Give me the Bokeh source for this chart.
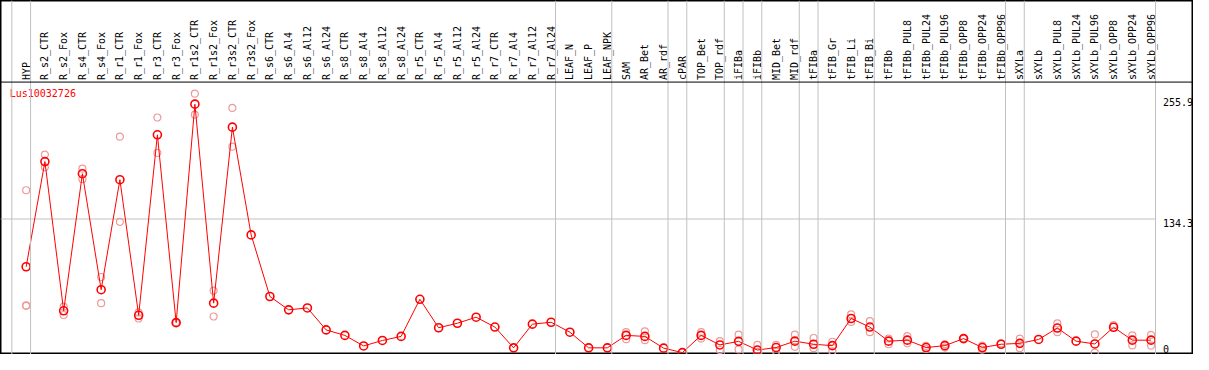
import math
from bokeh.plotting import figure
from bokeh.models import Range1d, Span, ColumnDataSource
from bokeh.core.properties import value
from bokeh.embed import file_html
from bokeh.resources import INLINE

NaN = float("nan")

title_text = "Lus10032726"

categories = [
    "HYP", "R_s2_CTR", "R_s2_Fox", "R_s4_CTR", "R_s4_Fox", "R_r1_CTR", "R_r1_Fox",
    "R_r3_CTR", "R_r3_Fox", "R_r1s2_CTR", "R_r1s2_Fox", "R_r3s2_CTR", "R_r3s2_Fox",
    "R_s6_CTR", "R_s6_Al4", "R_s6_Al12", "R_s6_Al24", "R_s8_CTR", "R_s8_Al4",
    "R_s8_Al12", "R_s8_Al24", "R_r5_CTR", "R_r5_Al4", "R_r5_Al12", "R_r5_Al24",
    "R_r7_CTR", "R_r7_Al4", "R_r7_Al12", "R_r7_Al24", "LEAF_N", "LEAF_P", "LEAF_NPK",
    "SAM", "AR_Bet", "AR_rdf", "cPAR", "TOP_Bet", "TOP_rdf", "iFIBa", "iFIBb",
    "MID_Bet", "MID_rdf", "tFIBa", "tFIB_Gr", "tFIB_Li", "tFIB_Bi", "tFIBb",
    "tFIBb_PUL8", "tFIBb_PUL24", "tFIBb_PUL96", "tFIBb_OPP8", "tFIBb_OPP24", "tFIBb_OPP96",
    "sXYLa", "sXYLb", "sXYLb_PUL8", "sXYLb_PUL24", "sXYLb_PUL96", "sXYLb_OPP8",
    "sXYLb_OPP24", "sXYLb_OPP96",
]

mean_vals = [
    86.3, 192.0, 42.0, 179.8, 63.2, 173.8, 37.5, 218.9, 30.1, 249.7, 49.7, 226.6, 118.3,
    56.4, 43.0, 44.9, 22.8, 17.3, 6.7, 12.2, 16.3, 53.6, 25.0, 29.5, 35.6,
    25.7, 4.8, 28.6, 30.5, 20.5, 4.8, 4.8,
    17.3, 16.3, 4.5, 0.0, 17.3, 7.7, 11.3, 2.6, 5.1, 11.5, 8.4, 7.0, 34.3, 25.7, 11.5,
    12.5, 5.1, 7.0, 14.1, 5.1, 8.4,
    9.3, 13.2, 24.7, 11.5, 8.7, 25.5, 12.5, 12.5,
]

rep1_vals = [
    163.2, 199.0, 46.2, 184.9, 76.0, 217.0, 40.4, 236.3, 30.4, 260.3, 62.2, 245.9, NaN,
    NaN, NaN, NaN, NaN, NaN, NaN, NaN, NaN, NaN, NaN, NaN, NaN,
    NaN, NaN, NaN, NaN, NaN, NaN, NaN,
    20.5, 21.4, NaN, NaN, 20.5, 11.5, 18.0, 7.7, 7.7, 18.0, 14.7, 10.9, 38.5, 31.7, 14.1,
    16.6, 6.7, 8.4, 14.1, 7.0, 9.3,
    14.1, NaN, 29.3, NaN, 18.3, 27.6, 17.3, 17.8,
]

rep2_vals = [
    47.4, 186.3, 37.8, 174.3, 49.7, 131.4, 34.3, 200.7, 29.8, 239.1, 36.3, 207.0, NaN,
    NaN, NaN, NaN, NaN, NaN, NaN, NaN, NaN, NaN, NaN, NaN, NaN,
    NaN, NaN, NaN, NaN, NaN, NaN, NaN,
    13.5, 12.5, NaN, NaN, 14.1, 2.6, 3.2, 0.5, 1.3, 5.8, 4.5, 1.3, 30.8, 20.5, 8.4,
    9.3, 3.6, 5.1, 14.1, 2.9, NaN,
    4.5, NaN, 20.5, NaN, 0.0, NaN, 7.2, 7.0,
]

rep3_vals = [47.0] + [NaN] * 60

group_ends = [-1, 0, 28, 31, 34, 35, 37, 38, 39, 41, 42, 45, 52, 53, 60]

y_ticks = [255.9, 134.3, 0.0]
y_tick_labels = ["255.9", "134.3", "0"]

# ---- layout constants ----
W, H = 1193, 354
X0, X1 = -1.3686, 62.262
Y0, Y1 = -1.9, 353.9
HEADER_LINE = 271.9
HEADER_LABEL_Y = 273.9
TITLE_X, TITLE_Y = -0.878, 260.6
TICK_LABEL_X = 60.63
GRID_OFFSET = 0.235
FONT = value("DejaVu Sans Mono")

p = figure(width=W, height=H, x_range=Range1d(X0, X1), y_range=Range1d(Y0, Y1),
           output_backend="svg", toolbar_location=None,
           x_axis_location=None, y_axis_location=None, min_border=0)
p.xgrid.visible = False
p.ygrid.visible = False
p.outline_line_color = "black"
p.outline_line_width = 2
p.background_fill_color = "white"
p.border_fill_color = "white"

xs = list(range(len(categories)))

# vertical group separators
for g in group_ends:
    p.add_layout(Span(location=g + GRID_OFFSET, dimension="height",
                      line_color="#c0c0c0", line_width=1))

# horizontal grid line at middle tick
p.segment(x0=[X0], y0=[y_ticks[1]], x1=[group_ends[-1] + GRID_OFFSET], y1=[y_ticks[1]],
          line_color="#c0c0c0", line_width=1)

# header separator
p.add_layout(Span(location=HEADER_LINE, dimension="width", line_color="black", line_width=1))

# header category labels
src_lab = ColumnDataSource(dict(x=xs, y=[HEADER_LABEL_Y] * len(xs), t=categories))
p.text(x="x", y="y", text="t", source=src_lab, angle=math.pi / 2,
       text_align="left", text_baseline="middle", text_font=FONT,
       text_font_size="10px", text_color="black")

# replicates
src = ColumnDataSource(dict(x=xs, m=mean_vals, r1=rep1_vals, r2=rep2_vals, r3=rep3_vals))
for col in ["r1", "r2", "r3"]:
    p.scatter(x="x", y=col, source=src, marker="circle", size=7,
              fill_color=None, line_color="#ee9a9a", line_width=1.2)

# mean line and markers
p.line(x="x", y="m", source=src, line_color="#ff0000", line_width=1)
p.scatter(x="x", y="m", source=src, marker="circle", size=8,
          fill_color=None, line_color="#ff0000", line_width=1.6)

# title
p.text(x=[TITLE_X], y=[TITLE_Y], text=[title_text], text_align="left",
       text_baseline="middle", text_font=FONT, text_font_size="10px",
       text_color="#ff0000")

# right-side value labels
p.text(x=[TICK_LABEL_X] * 2, y=y_ticks[:2], text=y_tick_labels[:2], text_align="left",
       text_baseline="top", text_font=FONT, text_font_size="10px", text_color="black")
p.text(x=[TICK_LABEL_X], y=y_ticks[2:], text=y_tick_labels[2:], text_align="left",
       text_baseline="bottom", text_font=FONT, text_font_size="10px", text_color="black")

open("out.html", "w").write(file_html(p, INLINE))
